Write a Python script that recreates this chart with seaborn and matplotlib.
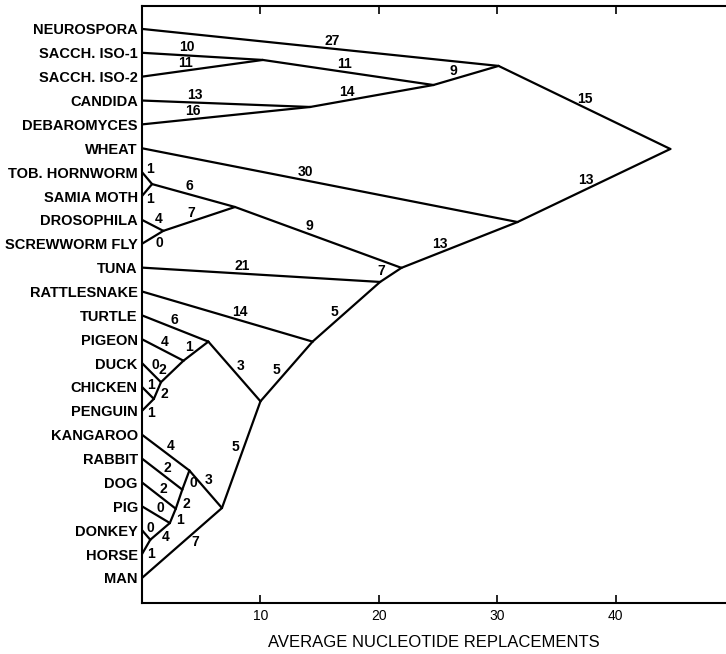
import numpy as np
import pandas as pd
import matplotlib
matplotlib.use('Agg')
import matplotlib.pyplot as plt
import seaborn as sns

# cytochrome c tree: leaves (top to bottom) sit at x = 0
leaves = ['NEUROSPORA', 'SACCH. ISO-1', 'SACCH. ISO-2', 'CANDIDA', 'DEBAROMYCES',
          'WHEAT', 'TOB. HORNWORM', 'SAMIA MOTH', 'DROSOPHILA', 'SCREWWORM FLY',
          'TUNA', 'RATTLESNAKE', 'TURTLE', 'PIGEON', 'DUCK', 'CHICKEN', 'PENGUIN',
          'KANGAROO', 'RABBIT', 'DOG', 'PIG', 'DONKEY', 'HORSE', 'MAN']

# internal nodes: x = replacements, y = position in leaf rows
node_names = ['sacch', 'cand_deb', 'yeasts', 'fungi', 'root', 'plant_animal', 'animals',
              'insects', 'moths', 'flies', 'vertebrates', 'tetrapods', 'amniotes',
              'turtle_birds', 'birds', 'duck_grp', 'chick_pen', 'mammals', 'kanga_grp',
              'rabbit_grp', 'dog_grp', 'pig_grp', 'equids']
node_x = [10.2, 14.2, 24.6, 30.1, 44.6, 31.7, 21.9,
          7.85, 0.85, 1.8, 20.1, 14.4, 10.0,
          5.6, 3.5, 1.6, 1.0, 6.75, 4.0,
          3.4, 2.85, 2.35, 0.7]
node_y = [1.30, 3.27, 2.35, 1.55, 5.03, 8.09, 10.01,
          7.46, 6.5, 8.46, 10.6, 13.1, 15.6,
          13.1, 13.9, 14.8, 15.5, 20.07, 18.5,
          19.3, 20.1, 20.7, 21.4]

# branches (child -> parent) with their replacement counts
edge_child = ['NEUROSPORA', 'SACCH. ISO-1', 'SACCH. ISO-2', 'sacch', 'CANDIDA', 'DEBAROMYCES',
              'cand_deb', 'yeasts', 'fungi', 'plant_animal', 'WHEAT', 'animals',
              'TOB. HORNWORM', 'SAMIA MOTH', 'moths', 'DROSOPHILA', 'SCREWWORM FLY', 'flies',
              'insects', 'vertebrates', 'TUNA', 'tetrapods', 'RATTLESNAKE', 'amniotes',
              'turtle_birds', 'TURTLE', 'birds', 'PIGEON', 'duck_grp', 'DUCK', 'chick_pen',
              'CHICKEN', 'PENGUIN', 'mammals', 'kanga_grp', 'MAN', 'KANGAROO', 'rabbit_grp',
              'RABBIT', 'dog_grp', 'DOG', 'pig_grp', 'PIG', 'equids', 'DONKEY', 'HORSE']
edge_parent = ['fungi', 'sacch', 'sacch', 'yeasts', 'cand_deb', 'cand_deb',
               'yeasts', 'fungi', 'root', 'root', 'plant_animal', 'plant_animal',
               'moths', 'moths', 'insects', 'flies', 'flies', 'insects',
               'animals', 'animals', 'vertebrates', 'vertebrates', 'tetrapods', 'tetrapods',
               'amniotes', 'turtle_birds', 'turtle_birds', 'birds', 'birds', 'duck_grp', 'duck_grp',
               'chick_pen', 'chick_pen', 'amniotes', 'mammals', 'mammals', 'kanga_grp', 'kanga_grp',
               'rabbit_grp', 'rabbit_grp', 'dog_grp', 'dog_grp', 'pig_grp', 'pig_grp', 'equids', 'equids']
edge_label = [27, 10, 11, 11, 13, 16,
              14, 9, 15, 13, 30, 13,
              1, 1, 6, 4, 0, 7,
              9, 7, 21, 5, 14, 5,
              3, 6, 1, 4, 2, 0, 2,
              1, 1, 5, 3, 7, 4, 0,
              2, 2, 2, 1, 0, 4, 0, 1]

# where each number sits: fraction along branch from the child end, side (+1 above, -1 below)
label_t = [.53, .37, .37, .47, .31, .31,
           .31, .34, .48, .47, .43, .36,
           .2, .2, .43, .6, .6, .42,
           .43, .27, .42, .4, .56, .43,
           .5, .45, .4, .46, .3, .4, .5,
           .3, .3, .55, .4, .6, .5, .5,
           .5, .4, .5, .4, .5, .5, .3, .3]
label_side = [1, 1, 1, 1, 1, 1,
              1, 1, 1, 1, 1, 1,
              1, -1, 1, 1, -1, 1,
              1, 1, 1, 1, 1, 1,
              1, 1, 1, 1, 1, 1, -1,
              1, -1, 1, 1, -1, 1, -1,
              1, -1, 1, -1, 1, -1, 1, -1]

sns.set_theme(style='ticks')
plt.rcParams['font.family'] = ['Liberation Sans', 'DejaVu Sans']
plt.rcParams.update({'text.color': 'black', 'axes.labelcolor': 'black',
                     'xtick.color': 'black', 'ytick.color': 'black',
                     'axes.edgecolor': 'black'})

pos = {name: (0.0, float(i)) for i, name in enumerate(leaves)}
pos.update({n: (x, y) for n, x, y in zip(node_names, node_x, node_y)})

rows = []
for k, (c, p) in enumerate(zip(edge_child, edge_parent)):
    for end in (c, p):
        rows.append({'edge': k, 'x': pos[end][0], 'y': pos[end][1]})
segs = pd.DataFrame(rows)

fig = plt.figure(figsize=(7.26, 6.54), dpi=100)
ax = fig.add_axes([142 / 726, 51 / 654, 584 / 726, 597 / 654])
sns.lineplot(data=segs, x='x', y='y', units='edge', estimator=None, sort=False,
             color='black', lw=1.6, ax=ax, legend=False)
ax.set_xlim(0, 49.3)
ax.set_ylim(24.05, -0.96)

# branch numbers, nudged off the line in screen space
for c, p, lab, t, side in zip(edge_child, edge_parent, edge_label, label_t, label_side):
    (x0, y0), (x1, y1) = pos[c], pos[p]
    xm, ym = x0 + t * (x1 - x0), y0 + t * (y1 - y0)
    d0 = ax.transData.transform((x0, y0))
    d1 = ax.transData.transform((x1, y1))
    dx, dy = d1 - d0
    L = np.hypot(dx, dy)
    nx, ny = -dy / L * side, dx / L * side
    ax.annotate(str(lab), (xm, ym), xytext=(8 * nx, 8 * ny), textcoords='offset pixels',
                ha='center', va='center', fontsize=10, fontweight='bold', color='black')

ax.set_yticks(range(len(leaves)))
ax.set_yticklabels(leaves, fontsize=10.5, fontweight='bold', color='black')
ax.tick_params(axis='y', length=0, pad=3)
ax.set_xticks([10, 20, 30, 40])
ax.set_xticklabels(['10', '20', '30', '40'], fontsize=10, color='black')
ax.tick_params(axis='x', top=True, bottom=True, direction='in', length=6, width=1.2,
               labeltop=False, pad=4)
ax.set_xlabel('AVERAGE NUCLEOTIDE REPLACEMENTS', fontsize=12, labelpad=9, color='black')
ax.set_ylabel('')
ax.spines['right'].set_visible(False)
for s in ['left', 'top', 'bottom']:
    ax.spines[s].set_linewidth(1.5)
    ax.spines[s].set_color('black')

fig.savefig('out.png', dpi=100)
